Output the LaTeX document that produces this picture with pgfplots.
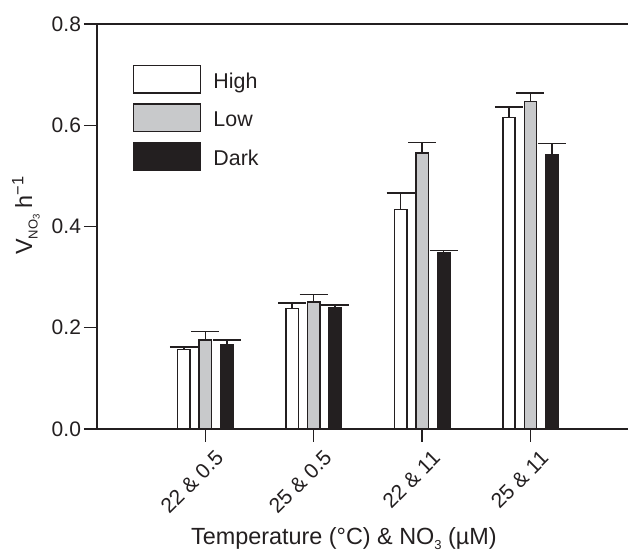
\documentclass[border=0pt]{standalone}
\usepackage{fontspec}
\setmainfont{Liberation Sans}
\usepackage{pgfplots}
\pgfplotsset{compat=1.18}
\definecolor{ink}{HTML}{231F20}
\definecolor{lgray}{HTML}{C8C9CB}
\pgfplotstableread{
x y e
0 0.157 0.005
1 0.238 0.011
2 0.434 0.032
3 0.615 0.021
}\high
\pgfplotstableread{
x y e
0 0.176 0.017
1 0.251 0.015
2 0.545 0.021
3 0.647 0.017
}\low
\pgfplotstableread{
x y e
0 0.167 0.009
1 0.239 0.006
2 0.349 0.004
3 0.541 0.023
}\dark
\begin{document}
\begin{tikzpicture}
\begin{axis}[
  scale only axis, width=265.5pt, height=202.5pt,
  xmin=-1, xmax=3.9, ymin=0, ymax=0.8,
  ybar=4.55pt, bar width=6.2pt,
  axis x line*=bottom, axis y line*=left,
  axis line style={ink, line width=0.75pt},
  ytick={0,0.2,0.4,0.6,0.8},
  xtick={0,1,2,3},
  xticklabels={22 \& 0.5, 25 \& 0.5, 22 \& 11, 25 \& 11},
  tick align=outside, major tick length=6.5pt,
  tick style={ink, line width=0.75pt},
  /pgf/number format/assume math mode=true,
  yticklabel style={/pgf/number format/fixed, /pgf/number format/fixed zerofill, /pgf/number format/precision=1, font=\fontsize{10.5}{12}\selectfont, text=ink, xshift=2pt},
  xticklabel style={rotate=45, anchor=north east, inner sep=0pt, xshift=0.8pt, yshift=-5.5pt, font=\fontsize{10.5}{12}\selectfont, text=ink},
  xlabel={Temperature (°C) \& NO\raisebox{-0.4ex}{\fontsize{6.5}{7}\selectfont 3} (µM)},
  xlabel style={at={(axis description cs:0.465,0)}, anchor=base, yshift=-57.8pt, font=\fontsize{11.7}{14}\selectfont, text=ink},
  ylabel={V\raisebox{-0.45ex}{\fontsize{6.5}{7}\selectfont NO\raisebox{-0.3ex}{\fontsize{4.8}{5}\selectfont 3}} h\textsuperscript{−1}},
  ylabel style={at={(axis description cs:-0.1224,0.528)}, anchor=base, font=\fontsize{11.7}{14}\selectfont, text=ink},
  legend style={at={(rel axis cs:0,1)}, anchor=north west, xshift=18pt, yshift=-20.3pt, draw=none, fill=none, inner sep=0pt, outer sep=0pt, row sep=4.7pt, column sep=6pt, font=\fontsize{10.7}{12}\selectfont, text=ink, nodes={inner sep=0pt}},
  legend cell align=left,
  clip=false,
  error bars/y dir=plus, error bars/y explicit,
  error bars/error bar style={ink, line width=0.75pt},
  error bars/error mark options={ink, line width=0.75pt, mark size=7pt, rotate=90},
]
\addplot[draw=ink, fill=white, line width=0.75pt,
  legend image code/.code={\draw[draw=ink, fill=white, line width=0.75pt] (0pt,-5.3pt) rectangle (33.5pt,8.5pt);}]
  table[x=x, y=y, y error=e] {\high};
\addlegendentry{High}
\addplot[draw=ink, fill=lgray, line width=0.75pt,
  legend image code/.code={\draw[draw=ink, fill=lgray, line width=0.75pt] (0pt,-5.3pt) rectangle (33.5pt,8.5pt);}]
  table[x=x, y=y, y error=e] {\low};
\addlegendentry{Low}
\addplot[draw=ink, fill=ink, line width=0.75pt,
  legend image code/.code={\draw[draw=ink, fill=ink, line width=0.75pt] (0pt,-5.3pt) rectangle (33.5pt,8.5pt);}]
  table[x=x, y=y, y error=e] {\dark};
\addlegendentry{Dark}
\draw[ink, line width=0.75pt] (rel axis cs:0,1) -- (rel axis cs:1,1);
\end{axis}
\pgfresetboundingbox
\path[use as bounding box] (-48.5pt,-60.5pt) rectangle (265.5pt,214.5pt);
\end{tikzpicture}
\end{document}
